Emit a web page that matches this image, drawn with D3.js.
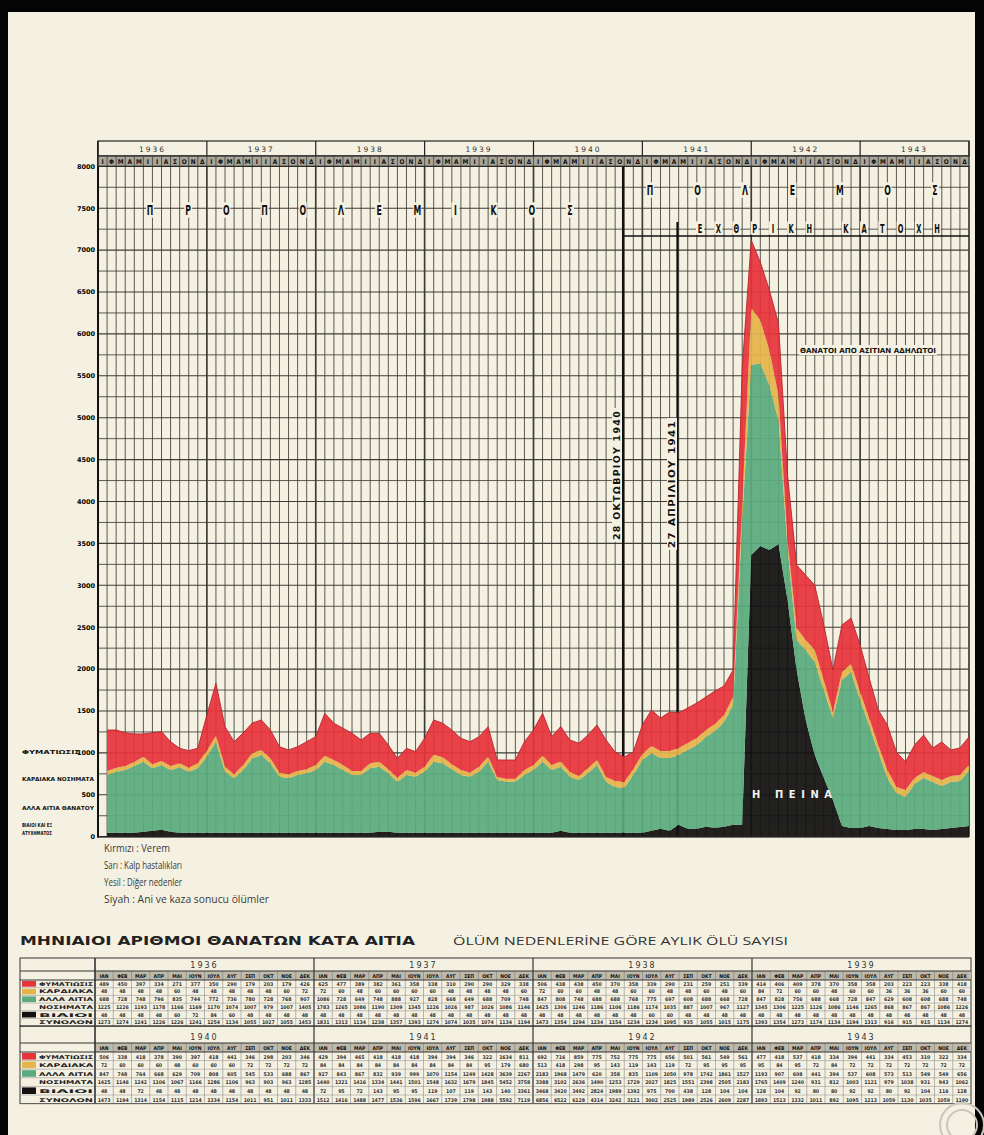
<!DOCTYPE html>
<html><head><meta charset="utf-8">
<script src="https://cdn.jsdelivr.net/npm/d3@7"></script>
<style>
html,body{margin:0;padding:0;background:#000;}
svg{display:block;}
</style></head>
<body>
<svg id="c" width="984" height="1135"></svg>
<script>
// Monthly deaths by cause, January 1936 – December 1943
const years = [1936, 1937, 1938, 1939, 1940, 1941, 1942, 1943];
const monthInitials = ["Ι","Φ","Μ","Α","Μ","Ι","Ι","Α","Σ","Ο","Ν","Δ"];
const monthAbbr = ["ΙΑΝ","ΦΕΒ","ΜΑΡ","ΑΠΡ","ΜΑΙ","ΙΟΥΝ","ΙΟΥΛ","ΑΥΓ","ΣΕΠ","ΟΚΤ","ΝΟΕ","ΔΕΚ"];
const yTicks = [0,500,1000,1500,2000,2500,3000,3500,4000,4500,5000,5500,6000,6500,7000,7500,8000];

// red: tuberculosis
const tuberculosis = [489,450,397,334,271,377,350,290,179,203,179,426,
  625,477,389,382,361,358,338,310,290,290,329,338,
  506,438,438,450,370,358,339,290,231,259,251,339,
  414,406,409,378,370,358,358,203,223,223,338,418,
  506,338,418,378,390,397,418,441,346,298,203,346,
  429,394,465,418,418,418,394,394,346,322,1634,811,
  692,716,859,775,752,775,775,656,501,561,549,561,
  477,418,537,418,334,394,441,334,453,310,322,334];
// yellow: heart disease
const heart = [48,48,48,48,60,48,48,48,48,48,60,72,
  72,60,48,60,60,60,60,48,48,48,48,60,
  72,60,60,48,48,60,60,48,48,60,48,60,
  84,72,60,60,48,60,60,36,36,36,60,60,
  72,60,60,60,48,60,60,60,72,72,72,72,
  84,84,84,84,84,84,84,84,84,95,179,680,
  513,418,298,95,143,119,143,119,72,95,95,95,
  95,84,95,72,84,72,72,72,72,72,72,72];
// green: other causes
const other = [688,728,748,796,835,744,772,736,780,728,768,907,
  1086,728,649,748,888,927,828,668,649,688,709,748,
  847,808,748,688,688,768,775,697,608,688,668,728,
  847,828,756,688,668,728,847,629,608,608,688,748,
  847,748,764,668,629,709,808,605,545,533,688,867,
  927,843,867,832,939,999,1070,1154,1249,1428,3639,2267,
  2183,1968,1479,620,358,835,1109,1050,978,1742,1861,1527,
  1193,907,608,441,394,537,608,573,513,549,549,656];
// black: sudden and accidental deaths
const violent = [48,48,48,48,60,72,84,60,48,48,48,48,
  48,48,48,48,48,48,48,48,48,48,48,48,
  48,48,48,48,48,48,60,60,48,48,48,48,
  48,48,48,48,48,48,48,48,48,48,48,48,
  48,48,72,48,48,48,48,48,48,48,48,48,
  72,95,72,143,95,95,119,107,119,143,140,3361,
  3468,3420,3492,2824,1989,1392,975,700,438,128,104,104,
  128,104,92,80,80,92,92,80,92,104,116,128];

const C = {tb:"#e6343b", heart:"#e4b54a", other:"#5aab7e", violent:"#111111",
  paper:"#f5f1e2", grid:"#3e3c36", ink:"#1c1c1a"};
const condensed = "'DejaVu Sans Condensed','Liberation Sans Narrow','DejaVu Sans',sans-serif";

const svg = d3.select("#c");
svg.append("rect").attr("width",984).attr("height",1135).attr("fill","#040404");
svg.append("rect").attr("x",8).attr("y",12).attr("width",967).attr("height",1123).attr("fill",C.paper);

const X0 = 98, X1 = 969, Y0 = 836.7, YT = 166.3;
const xm = d3.scaleLinear().domain([0, 96]).range([X0, X1]);
const y = d3.scaleLinear().domain([0, 8000]).range([Y0, YT]);

const chart = svg.append("g");

// grid
chart.selectAll("line.h").data(d3.range(0, 8001, 250)).join("line")
  .attr("x1", X0).attr("x2", X1).attr("y1", d => y(d)).attr("y2", d => y(d))
  .attr("stroke", C.grid).attr("stroke-width", d => d % 500 === 0 ? 1.1 : 0.85);
chart.selectAll("line.v").data(d3.range(0, 97)).join("line")
  .attr("x1", d => xm(d)).attr("x2", d => xm(d)).attr("y1", YT).attr("y2", Y0)
  .attr("stroke", C.grid).attr("stroke-width", d => d % 12 === 0 ? 1.7 : 0.85);

// date lines
const lineOct40 = 57 + 27/31, lineApr41 = 63 + 26/30;
chart.append("line").attr("x1", xm(lineOct40)).attr("x2", xm(lineOct40))
  .attr("y1", 156).attr("y2", Y0).attr("stroke", "#111").attr("stroke-width", 2.2);
chart.append("line").attr("x1", xm(lineApr41)).attr("x2", xm(lineApr41))
  .attr("y1", 222).attr("y2", Y0).attr("stroke", "#111").attr("stroke-width", 2.2);
chart.append("line").attr("x1", xm(lineOct40)).attr("x2", X1).attr("y1", 236).attr("y2", 236)
  .attr("stroke", "#111").attr("stroke-width", 1.6);

// stacked areas
const rows = d3.range(96).map(i => ({i, violent: violent[i], other: other[i], heart: heart[i], tb: tuberculosis[i]}));
const keys = ["violent", "other", "heart", "tb"];
const series = d3.stack().keys(keys)(rows);
const area = d3.area().x(d => xm(d.data.i + 1)).y0(d => y(d[0])).y1(d => y(d[1]));
chart.selectAll("path.layer").data(series).join("path")
  .attr("d", area).attr("fill", d => C[d.key]).attr("fill-opacity", 0.93);
chart.append("path").datum(series[3])
  .attr("d", d3.line().x(d => xm(d.data.i + 1)).y(d => y(d[1])))
  .attr("fill", "none").attr("stroke", "#b8262c").attr("stroke-width", 0.9);

// axis and baseline
chart.append("line").attr("x1", X0).attr("x2", X0).attr("y1", 141).attr("y2", Y0 + 1)
  .attr("stroke", "#111").attr("stroke-width", 2);
chart.append("line").attr("x1", X0).attr("x2", X1).attr("y1", Y0).attr("y2", Y0)
  .attr("stroke", "#222").attr("stroke-width", 1.4);

// y tick labels
chart.selectAll("text.yt").data(yTicks).join("text")
  .attr("x", 95).attr("y", d => y(d) + 2.3).attr("text-anchor", "end")
  .attr("font-family", "'DejaVu Sans',sans-serif").attr("font-weight", 700).attr("font-size", 6.5)
  .attr("fill", "#000").text(d => d);

// header: years and months
const hdr = svg.append("g");
hdr.append("rect").attr("x", X0).attr("y", 141).attr("width", X1 - X0).attr("height", 15)
  .attr("fill", C.paper).attr("stroke", "#222").attr("stroke-width", 1.2);
hdr.append("rect").attr("x", X0).attr("y", 156).attr("width", X1 - X0).attr("height", YT - 156)
  .attr("fill", "#a9a599").attr("stroke", "#222").attr("stroke-width", 1.2);
hdr.selectAll("line.yr").data(d3.range(0, 97, 12)).join("line")
  .attr("x1", d => xm(d)).attr("x2", d => xm(d)).attr("y1", 141).attr("y2", 156)
  .attr("stroke", "#222").attr("stroke-width", 1.2);
hdr.selectAll("text.yr").data(years).join("text")
  .attr("x", (d, i) => xm(i * 12 + 6)).attr("y", 152).attr("text-anchor", "middle")
  .attr("font-family", "'DejaVu Sans',sans-serif").attr("font-size", 7.5)
  .attr("letter-spacing", 2).attr("fill", "#333").text(d => d);
hdr.selectAll("line.mo").data(d3.range(0, 96)).join("line")
  .attr("x1", d => xm(d)).attr("x2", d => xm(d)).attr("y1", 156).attr("y2", YT)
  .attr("stroke", "#333").attr("stroke-width", 0.7);
hdr.selectAll("text.mo").data(d3.range(0, 96)).join("text")
  .attr("x", d => xm(d + 0.5)).attr("y", 164).attr("text-anchor", "middle")
  .attr("font-family", condensed).attr("font-weight", 700).attr("font-size", 6.5)
  .attr("fill", "#111").text(d => monthInitials[d % 12]);

// spaced period captions
function spaced(letters, x0, x1, yc, size) {
  const g = svg.append("g");
  const pos = d3.scalePoint().domain(d3.range(letters.length)).range([x0, x1]);
  letters.forEach((ch, k) => {
    if (ch === " ") return;
    g.append("rect").attr("x", pos(k) - 4).attr("y", yc - size * 0.55).attr("width", 8)
      .attr("height", size * 1.1).attr("fill", C.paper);
    g.append("text").attr("x", pos(k)).attr("y", yc + size * 0.38).attr("text-anchor", "middle")
      .attr("font-family", condensed).attr("font-weight", 900).attr("font-size", size)
      .attr("transform", `translate(${pos(k)},0) scale(0.62,1) translate(${-pos(k)},0)`)
      .attr("fill", "#111").text(ch);
  });
}
spaced([..."ΠΡΟΠΟΛΕΜΙΚΟΣ"], 150, 570, 210, 14);
spaced([..."ΠΟΛΕΜΟΣ"], 650, 935, 190, 14);
spaced([..."ΕΧΘΡΙΚΗ ΚΑΤΟΧΗ"], 700, 937, 228, 12);

// vertical date captions
function vlabel(txt, xc, yBottom, len) {
  const g = svg.append("g").attr("transform", `translate(${xc},${yBottom}) rotate(-90)`);
  g.append("rect").attr("x", -2).attr("y", -5).attr("width", len + 4).attr("height", 10).attr("fill", C.paper);
  g.append("text").attr("x", 0).attr("y", 3).attr("font-family", condensed).attr("font-weight", 900)
    .attr("font-size", 8).attr("textLength", len).attr("lengthAdjust", "spacingAndGlyphs")
    .attr("letter-spacing", 1).attr("fill", "#111").text(txt);
}
vlabel("28 ΟΚΤΩΒΡΙΟΥ 1940", 617, 540, 130);
vlabel("27 ΑΠΡΙΛΙΟΥ 1941", 672, 548, 128);

// caption near the famine peak
svg.append("rect").attr("x", 799).attr("y", 345).attr("width", 138).attr("height", 10).attr("fill", C.paper);
svg.append("text").attr("x", 800).attr("y", 353).attr("font-family", condensed).attr("font-weight", 900)
  .attr("font-size", 7).attr("textLength", 136).attr("lengthAdjust", "spacingAndGlyphs")
  .attr("fill", "#111").text("ΘΑΝΑΤΟΙ ΑΠΟ ΑΣΙΤΙΑΝ ΑΔΗΛΩΤΟΙ");

svg.append("text").attr("x", 752).attr("y", 798).attr("font-family", condensed).attr("font-weight", 700)
  .attr("font-size", 11).attr("textLength", 80).attr("lengthAdjust", "spacing")
  .attr("fill", "#f2f2f2").text("Η ΠΕΙΝΑ");

// layer captions on the left margin
const sideLabels = [
  {t: "ΦΥΜΑΤΙΩΣΙΣ", y: 754, w: 58},
  {t: "ΚΑΡΔΙΑΚΑ ΝΟΣΗΜΑΤΑ", y: 781, w: 72},
  {t: "ΑΛΛΑ ΑΙΤΙΑ ΘΑΝΑΤΟΥ", y: 810, w: 72},
  {t: "ΒΙΑΙΟΙ ΚΑΙ ΕΞ", y: 827, w: 30},
  {t: "ΑΤΥΧΗΜΑΤΟΣ", y: 835, w: 30}
];
svg.selectAll("text.side").data(sideLabels).join("text")
  .attr("x", 22).attr("y", d => d.y).attr("font-family", condensed).attr("font-weight", 900)
  .attr("font-size", 5.5).attr("textLength", d => d.w).attr("lengthAdjust", "spacingAndGlyphs")
  .attr("fill", "#111").text(d => d.t);

// legend (Turkish)
const legendLines = ["Kırmızı : Verem", "Sarı : Kalp hastalıkları", "Yesil : Diğer nedenler", "Siyah : Ani ve kaza sonucu ölümler"];
const legendW = [66, 78, 78, 165];
svg.selectAll("text.leg").data(legendLines).join("text")
  .attr("x", 104).attr("y", (d, i) => 852 + i * 17).attr("font-family", "'Open Sans','Liberation Sans',sans-serif")
  .attr("font-size", 11).attr("textLength", (d, i) => legendW[i]).attr("lengthAdjust", "spacingAndGlyphs")
  .attr("fill", "#3a3a36").text(d => d);

// titles
svg.append("text").attr("x", 20).attr("y", 945).attr("font-family", "'DejaVu Sans',sans-serif")
  .attr("font-weight", 700).attr("font-size", 12).attr("textLength", 395).attr("lengthAdjust", "spacingAndGlyphs")
  .attr("fill", "#222").text("ΜΗΝΙΑΙΟΙ ΑΡΙΘΜΟΙ ΘΑΝΑΤΩΝ ΚΑΤΑ ΑΙΤΙΑ");
svg.append("text").attr("x", 453).attr("y", 945).attr("font-family", "'Open Sans','Liberation Sans',sans-serif")
  .attr("font-size", 11).attr("textLength", 335).attr("lengthAdjust", "spacingAndGlyphs")
  .attr("fill", "#333").text("ÖLÜM NEDENLERİNE GÖRE AYLIK ÖLÜ SAYISI");

// monthly table
const total = d3.range(96).map(i => tuberculosis[i] + heart[i] + other[i] + violent[i]);
const diseases = d3.range(96).map(i => tuberculosis[i] + heart[i] + other[i]);
const tableRows = [
  {label: "ΦΥΜΑΤΙΩΣΙΣ", color: C.tb, vals: tuberculosis},
  {label: "ΚΑΡΔΙΑΚΑ", color: C.heart, vals: heart},
  {label: "ΑΛΛΑ ΑΙΤΙΑ", color: C.other, vals: other},
  {label: "ΝΟΣΗΜΑΤΑ", color: null, vals: diseases},
  {label: "ΒΙΑΙΟΙ", color: C.violent, vals: violent},
  {label: "ΣΥΝΟΛΟΝ", color: null, vals: total}
];
const TX0 = 95, TX1 = 971, LX = 20;
const tx = d3.scaleLinear().domain([0, 48]).range([TX0, TX1]);
const blocks = [{top: 958, yh: 13, mh: 9, rh: 7.7, start: 0}, {top: 1026, yh: 17, mh: 9, rh: 8.6, start: 48}];
const tbl = svg.append("g");
blocks.forEach(b => {
  const mTop = b.top + b.yh, dTop = mTop + b.mh, bottom = dTop + b.rh * 6;
  tbl.append("rect").attr("x", LX).attr("y", b.top).attr("width", TX1 - LX).attr("height", bottom - b.top)
    .attr("fill", "none").attr("stroke", "#333").attr("stroke-width", 1);
  tbl.append("rect").attr("x", TX0).attr("y", mTop).attr("width", TX1 - TX0).attr("height", b.mh)
    .attr("fill", "#bdb9ab");
  // year labels
  d3.range(4).forEach(k => {
    tbl.append("text").attr("x", tx(k * 12 + 6)).attr("y", b.top + b.yh - 3).attr("text-anchor", "middle")
      .attr("font-family", "'DejaVu Sans',sans-serif").attr("font-size", 8).attr("letter-spacing", 2)
      .attr("fill", "#333").text(years[(b.start / 12) + k]);
    tbl.append("line").attr("x1", tx(k * 12)).attr("x2", tx(k * 12)).attr("y1", b.top).attr("y2", bottom)
      .attr("stroke", "#333").attr("stroke-width", 1.2);
  });
  d3.range(48).forEach(m => {
    tbl.append("line").attr("x1", tx(m)).attr("x2", tx(m)).attr("y1", mTop).attr("y2", bottom)
      .attr("stroke", "#777").attr("stroke-width", 0.5);
    tbl.append("text").attr("x", tx(m + 0.5)).attr("y", mTop + b.mh - 2.5).attr("text-anchor", "middle")
      .attr("font-family", condensed).attr("font-weight", 900).attr("font-size", 5).attr("fill", "#111")
      .text(monthAbbr[m % 12]);
  });
  [mTop, dTop].forEach(yy => tbl.append("line").attr("x1", LX).attr("x2", TX1).attr("y1", yy).attr("y2", yy)
    .attr("stroke", "#333").attr("stroke-width", 1));
  tableRows.forEach((r, ri) => {
    const ry = dTop + ri * b.rh;
    tbl.append("line").attr("x1", LX).attr("x2", TX1).attr("y1", ry + b.rh).attr("y2", ry + b.rh)
      .attr("stroke", "#888").attr("stroke-width", 0.5);
    if (r.color) tbl.append("rect").attr("x", LX + 2).attr("y", ry + 1).attr("width", 14).attr("height", b.rh - 2)
      .attr("fill", r.color);
    tbl.append("text").attr("x", LX + 19).attr("y", ry + b.rh - 2).attr("font-family", condensed)
      .attr("font-weight", 900).attr("font-size", 5).attr("textLength", 54).attr("lengthAdjust", "spacingAndGlyphs")
      .attr("fill", "#222").text(r.label);
    d3.range(48).forEach(m => {
      tbl.append("text").attr("x", tx(m + 0.5)).attr("y", ry + b.rh - 2).attr("text-anchor", "middle")
        .attr("font-family", condensed).attr("font-weight", 700).attr("font-size", 5.2).attr("fill", "#333")
        .text(Math.round(r.vals[b.start + m]));
    });
  });
  tbl.append("line").attr("x1", TX0).attr("x2", TX0).attr("y1", b.top).attr("y2", bottom)
    .attr("stroke", "#333").attr("stroke-width", 1);
});

// faint library stamp in the lower right corner
const stamp = svg.append("g").attr("fill", "none").attr("stroke", "#c9c6bb").attr("stroke-width", 2);
[[22], [15]].forEach(([r]) => stamp.append("circle").attr("cx", 962).attr("cy", 1125).attr("r", r));
</script>
</body></html>
